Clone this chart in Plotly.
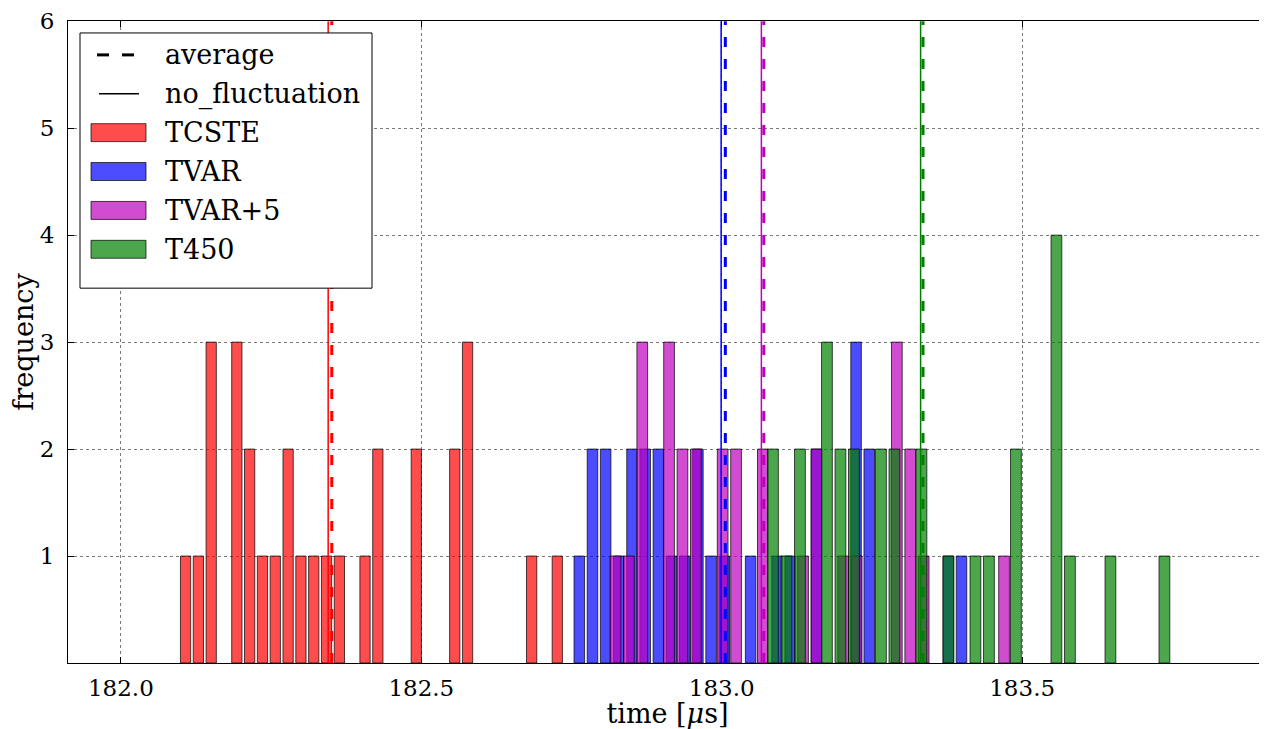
import numpy as np
import plotly.graph_objects as go

# 30-bin histograms, counts
series_names = ["TCSTE", "TVAR", "TVAR+5", "T450"]
series_colors = [(255, 0, 0), (0, 0, 255), (191, 0, 191), (0, 128, 0)]

tcste_counts = [1, 1, 3, 0, 3, 2, 1, 1, 2, 1, 1, 1, 1, 0, 1, 2, 0, 0, 2, 0, 0, 2, 3, 0, 0, 0, 0, 1, 0, 1]
tvar_counts = [1, 2, 2, 1, 2, 2, 2, 1, 1, 2, 1, 1, 0, 1, 0, 1, 1, 0, 2, 0, 0, 3, 2, 0, 0, 0, 0, 0, 1, 1]
tvar5_counts = [1, 1, 3, 0, 3, 2, 2, 0, 2, 2, 0, 2, 0, 0, 1, 2, 0, 1, 1, 0, 0, 3, 2, 1, 0, 0, 0, 0, 0, 1]
t450_counts = [2, 1, 2, 0, 3, 2, 2, 0, 2, 2, 0, 2, 0, 1, 0, 1, 1, 0, 2, 0, 0, 4, 1, 0, 0, 1, 0, 0, 0, 1]

# histogram range (first bin left edge, last bin right edge) in microseconds
tcste_range = (182.097, 182.737)
tvar_range = (182.752, 183.410)
tvar5_range = (182.812, 183.481)
t450_range = (183.074, 183.748)

# mean of each sample ("average") and the no-fluctuation reference time
average_times = [182.351, 183.006, 183.070, 183.335]
no_fluct_times = [182.345, 182.999, 183.066, 183.331]

x_ticks = [182.0, 182.5, 183.0, 183.5]
y_ticks = [1, 2, 3, 4, 5, 6]

FONT = "DejaVu Serif"
# the page body keeps an 8px margin, so the figure is drawn 8px in and down
PAGE_W, PAGE_H, OFF = 1267, 729, 8
W, H = PAGE_W - OFF, PAGE_H - OFF
PLOT_L, PLOT_R, PLOT_T, PLOT_B = 68, 1267, 19, 663   # plot area in page pixels


def px_x(p):
    return (p - PLOT_L) / (PLOT_R - PLOT_L)


def px_y(p):
    return (PLOT_B - p) / (PLOT_B - PLOT_T)


def rgba(c, a):
    return f"rgba({c[0]},{c[1]},{c[2]},{a})"


fig = go.Figure()

all_counts = [tcste_counts, tvar_counts, tvar5_counts, t450_counts]
all_ranges = [tcste_range, tvar_range, tvar5_range, t450_range]
for name, color, counts, (lo, hi) in zip(series_names, series_colors, all_counts, all_ranges):
    edges = np.linspace(lo, hi, len(counts) + 1)
    centers = (edges[:-1] + edges[1:]) / 2
    keep = [i for i, c in enumerate(counts) if c > 0]
    fig.add_trace(go.Bar(
        x=centers[keep], y=[counts[i] for i in keep],
        width=0.8 * (hi - lo) / len(counts),
        marker=dict(color=rgba(color, 0.7),
                    line=dict(color="rgba(0,0,0,0.7)", width=1)),
        name=name))

for color, avg, nf in zip(series_colors, average_times, no_fluct_times):
    fig.add_trace(go.Scatter(x=[nf, nf], y=[0, 6], mode="lines",
                             line=dict(color=rgba(color, 1), width=1.5)))
    fig.add_trace(go.Scatter(x=[avg, avg], y=[0, 6], mode="lines",
                             line=dict(color=rgba(color, 1), width=3, dash="10px,12px")))

# hand-drawn legend box in the matplotlib style
shapes = [dict(type="rect", xref="paper", yref="paper", layer="above",
               x0=px_x(80), x1=px_x(372), y0=px_y(287), y1=px_y(31),
               fillcolor="white", line=dict(color="black", width=1))]
annotations = []
row_y = [53, 92, 131, 170, 209, 248]
labels = ["average", "no_fluctuation"] + series_names
for k, (yy, lab) in enumerate(zip(row_y, labels)):
    if k == 0:
        for a, b in [(97, 109), (122, 134)]:
            shapes.append(dict(type="line", xref="paper", yref="paper", layer="above",
                               x0=px_x(a), x1=px_x(b), y0=px_y(yy), y1=px_y(yy),
                               line=dict(color="black", width=3)))
    elif k == 1:
        shapes.append(dict(type="line", xref="paper", yref="paper", layer="above",
                           x0=px_x(99), x1=px_x(139), y0=px_y(yy), y1=px_y(yy),
                           line=dict(color="black", width=1.5)))
    else:
        c = series_colors[k - 2]
        shapes.append(dict(type="rect", xref="paper", yref="paper", layer="above",
                           x0=px_x(91), x1=px_x(146), y0=px_y(yy + 9), y1=px_y(yy - 9),
                           fillcolor=rgba(c, 0.7), line=dict(color="rgba(0,0,0,0.7)", width=1)))
    annotations.append(dict(xref="paper", yref="paper", x=px_x(163), y=px_y(yy),
                            xanchor="left", yanchor="middle", showarrow=False,
                            text=lab, font=dict(family=FONT, size=27, color="black")))

axis_common = dict(ticks="inside", ticklen=6, tickcolor="black", showline=True,
                   linecolor="black", linewidth=1, showgrid=True, gridcolor="#7a7a7a",
                   griddash="dot", gridwidth=1, zeroline=False, ticklabeloverflow="allow",
                   tickfont=dict(family=FONT, size=23, color="black"))

fig.update_layout(
    width=W, height=H, barmode="overlay", showlegend=False,
    plot_bgcolor="white", paper_bgcolor="white",
    margin=dict(l=PLOT_L - OFF, r=W + OFF - PLOT_R, t=PLOT_T - OFF, b=H + OFF - PLOT_B),
    font=dict(family=FONT, color="black"),
    xaxis=dict(range=[181.912, 183.9075], tickvals=x_ticks,
               ticktext=[f"{v:.1f}" for v in x_ticks], mirror="ticks",
               ticklabelstandoff=4,
               title=dict(text="time [<i>μ</i>s]", font=dict(family=FONT, size=27), standoff=2),
               **axis_common),
    yaxis=dict(range=[0, 6.002], tickvals=y_ticks, ticklabelstandoff=8,
               title=dict(text="frequency", font=dict(family=FONT, size=27), standoff=4),
               **axis_common),
    shapes=shapes, annotations=annotations,
)

fig.write_html("out.html")
